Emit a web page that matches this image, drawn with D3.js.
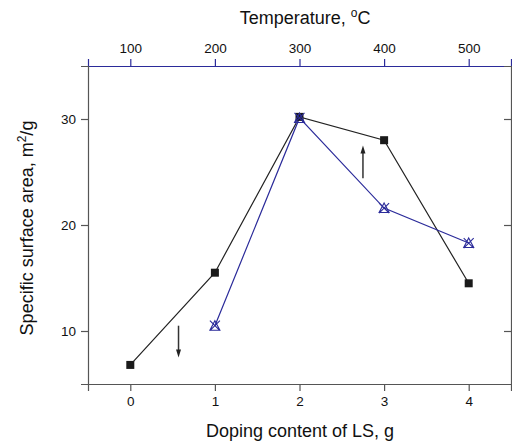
<!DOCTYPE html>
<html>
<head>
<meta charset="utf-8">
<script src="https://cdn.jsdelivr.net/npm/d3@7"></script>
<style>
  body { margin: 0; background: #fff; }
  svg { display: block; font-family: Arial, "Liberation Sans", sans-serif; }
</style>
</head>
<body>
<div id="chart"></div>
<script>
// Doping series (bottom axis)
const dopingX = [0, 1, 2, 3, 4];
const dopingY = [6.8, 15.5, 30.2, 28.0, 14.5];

// Temperature series (top axis)
const tempX = [200, 300, 400, 500];
const tempY = [10.5, 30.1, 21.6, 18.3];

// Tick labels
const dopingTicks = [0, 1, 2, 3, 4];
const tempTicks = [100, 200, 300, 400, 500];
const areaTicks = [10, 20, 30];

// Arrows (doping units, area units)
const arrowDown = { x: 0.57, from: 10.5, to: 7.5 };
const arrowUp = { x: 2.75, from: 24.4, to: 27.5 };

const width = 512, height = 445;
const m = { left: 88, right: 1, top: 66, bottom: 61 };

const svg = d3.select("#chart").append("svg")
  .attr("width", width)
  .attr("height", height);

// Scales
const x = d3.scaleLinear().domain([-0.5, 4.5]).range([m.left, width - m.right]);
const xt = d3.scaleLinear().domain([50, 550]).range([m.left, width - m.right]);
const y = d3.scaleLinear().domain([5, 35]).range([height - m.bottom, m.top]);

const axisGrey = "#555";
const blue = "#2b2b9a";
const fmt = d3.format("d");

// Bottom axis
const gB = svg.append("g").attr("transform", `translate(0,${height - m.bottom})`);
gB.call(d3.axisBottom(x).tickValues(d3.range(-0.5, 4.51, 0.5)).tickSize(5).tickFormat(""));
gB.call(d3.axisBottom(x).tickValues(dopingTicks).tickSize(7).tickPadding(5).tickFormat(fmt));

// Top axis (blue)
const gT = svg.append("g").attr("transform", `translate(0,${m.top})`);
gT.call(d3.axisTop(xt).tickValues(d3.range(50, 551, 50)).tickSize(5).tickFormat(""));
gT.call(d3.axisTop(xt).tickValues(tempTicks).tickSize(7).tickPadding(6).tickFormat(fmt));

// Left axis
const gL = svg.append("g").attr("transform", `translate(${m.left},0)`);
gL.call(d3.axisLeft(y).tickValues([5, 15, 25, 35]).tickSize(4).tickFormat(""));
gL.call(d3.axisLeft(y).tickValues(areaTicks).tickSize(7).tickPadding(5).tickFormat(fmt));

// Right axis (mirror)
const gR = svg.append("g").attr("transform", `translate(${width - m.right},0)`);
gR.call(d3.axisRight(y).tickValues([5, 15, 25, 35]).tickSize(-4).tickFormat(""));
gR.call(d3.axisRight(y).tickValues(areaTicks).tickSize(-7).tickFormat(""));

[gB, gL, gR].forEach(g => {
  g.selectAll("path, line").attr("stroke", axisGrey).attr("stroke-width", 1.2);
});
gT.selectAll("path, line").attr("stroke", blue).attr("stroke-width", 1.2);
[gB, gL, gT].forEach(g => {
  g.selectAll("text").attr("fill", "#111").style("font-size", "13.5px");
});

// Axis titles
svg.append("text")
  .attr("x", 300).attr("y", 437)
  .attr("text-anchor", "middle")
  .style("font-size", "18px").attr("fill", "#111")
  .text("Doping content of LS, g");

const tTitle = svg.append("text")
  .attr("x", 305).attr("y", 24)
  .attr("text-anchor", "middle")
  .style("font-size", "18px").attr("fill", "#111");
tTitle.append("tspan").text("Temperature, ");
tTitle.append("tspan").attr("dy", -7).style("font-size", "12px").text("o");
tTitle.append("tspan").attr("dy", 7).text("C");

const yTitle = svg.append("text")
  .attr("transform", "translate(33,228) rotate(-90)")
  .attr("text-anchor", "middle")
  .style("font-size", "18px").attr("fill", "#111");
yTitle.append("tspan").text("Specific surface area, m");
yTitle.append("tspan").attr("dy", -7).style("font-size", "12px").text("2");
yTitle.append("tspan").attr("dy", 7).text("/g");

// Lines
const dopingPts = dopingX.map((d, i) => [x(d), y(dopingY[i])]);
const tempPts = tempX.map((d, i) => [xt(d), y(tempY[i])]);

svg.append("path")
  .attr("d", d3.line()(dopingPts))
  .attr("fill", "none").attr("stroke", "#222").attr("stroke-width", 1.2);

svg.append("path")
  .attr("d", d3.line()(tempPts))
  .attr("fill", "none").attr("stroke", blue).attr("stroke-width", 1.2);

// Square markers
svg.selectAll("rect.sq").data(dopingPts).enter().append("rect")
  .attr("class", "sq")
  .attr("x", d => d[0] - 4).attr("y", d => d[1] - 4)
  .attr("width", 8).attr("height", 8)
  .attr("fill", "#1a1a1a");

// Crossed-triangle markers
const mk = svg.selectAll("g.mk").data(tempPts).enter().append("g")
  .attr("class", "mk")
  .attr("transform", d => `translate(${d[0]},${d[1]})`);
mk.append("path")
  .attr("d", "M-5,-5L5,5M5,-5L-5,5M0,-5L5,4.5L-5,4.5Z")
  .attr("fill", "none").attr("stroke", blue).attr("stroke-width", 1.1);

// Arrows
function arrow(a) {
  const cx = x(a.x), y0 = y(a.from), y1 = y(a.to);
  const dir = y1 > y0 ? 1 : -1;
  svg.append("line")
    .attr("x1", cx).attr("x2", cx)
    .attr("y1", y0).attr("y2", y1 - dir * 6)
    .attr("stroke", "#333").attr("stroke-width", 1.5);
  svg.append("path")
    .attr("d", `M${cx - 2.5},${y1 - dir * 8}L${cx + 2.5},${y1 - dir * 8}L${cx},${y1}Z`)
    .attr("fill", "#222");
}
arrow(arrowDown);
arrow(arrowUp);
</script>
</body>
</html>
